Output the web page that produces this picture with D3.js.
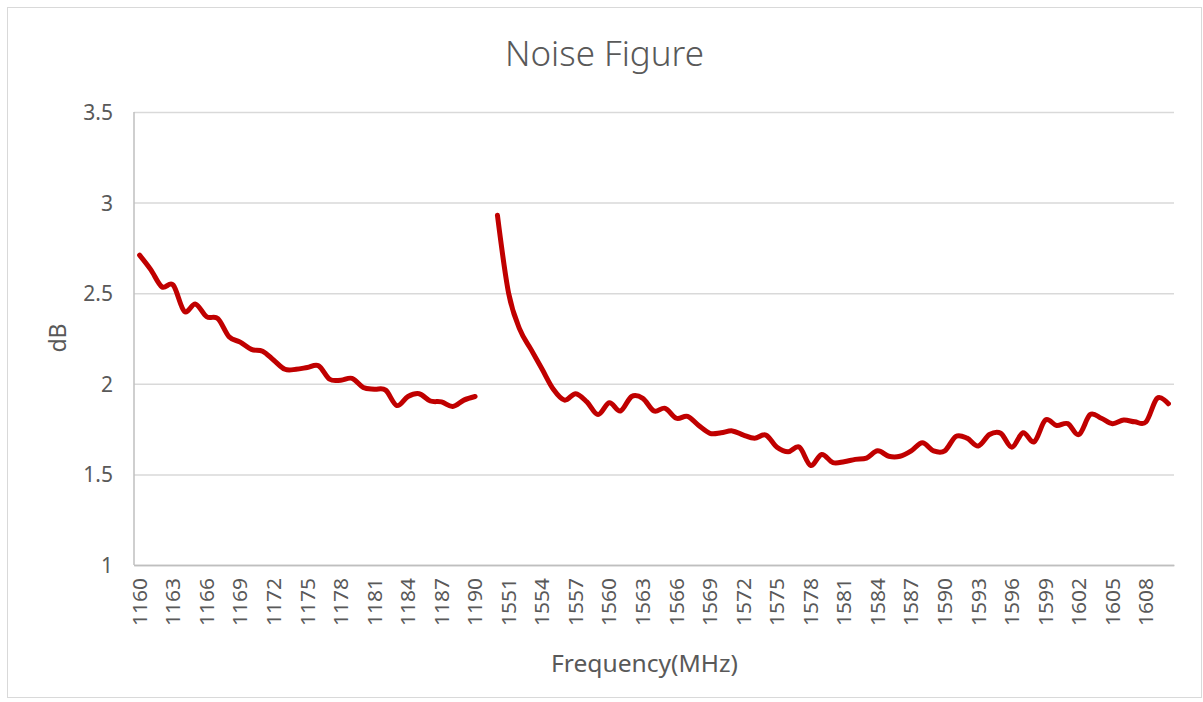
<!DOCTYPE html>
<html>
<head>
<meta charset="utf-8">
<script src="https://cdn.jsdelivr.net/npm/d3@7"></script>
<style>
  html, body { margin: 0; padding: 0; background: #fff; }
  svg { display: block; }
</style>
</head>
<body>
<svg id="chart" width="1203" height="702"></svg>
<script>
// ---- data ----
const lowBandFreqs = ["1160","1161","1162","1163","1164","1165","1166","1167","1168","1169","1170","1171","1172","1173","1174","1175","1176","1177","1178","1179","1180","1181","1182","1183","1184","1185","1186","1187","1188","1189","1190"];
const lowBandNF = [2.71,2.63,2.535,2.545,2.40,2.44,2.37,2.36,2.26,2.23,2.19,2.18,2.13,2.08,2.08,2.09,2.10,2.025,2.02,2.03,1.98,1.97,1.965,1.88,1.93,1.945,1.905,1.90,1.875,1.91,1.93];
const gapCategory = [""];
const highBandFreqs = ["1550","1551","1552","1553","1554","1555","1556","1557","1558","1559","1560","1561","1562","1563","1564","1565","1566","1567","1568","1569","1570","1571","1572","1573","1574","1575","1576","1577","1578","1579","1580","1581","1582","1583","1584","1585","1586","1587","1588","1589","1590","1591","1592","1593","1594","1595","1596","1597","1598","1599","1600","1601","1602","1603","1604","1605","1606","1607","1608","1609","1610"];
const highBandNF = [2.93,2.5,2.30,2.19,2.08,1.97,1.91,1.945,1.90,1.83,1.895,1.85,1.93,1.92,1.85,1.865,1.81,1.82,1.77,1.727,1.73,1.74,1.717,1.70,1.717,1.65,1.625,1.65,1.55,1.61,1.565,1.57,1.583,1.59,1.63,1.60,1.60,1.63,1.675,1.63,1.63,1.71,1.70,1.657,1.72,1.727,1.65,1.73,1.68,1.80,1.77,1.78,1.72,1.83,1.81,1.78,1.80,1.79,1.79,1.92,1.89];
const xTickLabels = ["1160","1163","1166","1169","1172","1175","1178","1181","1184","1187","1190","1551","1554","1557","1560","1563","1566","1569","1572","1575","1578","1581","1584","1587","1590","1593","1596","1599","1602","1605","1608"];
const yTicks = [1, 1.5, 2, 2.5, 3, 3.5];
const titleText = "Noise Figure";
const xTitle = "Frequency(MHz)";
const yTitle = "dB";

// ---- layout ----
const W = 1203, H = 702;
const plot = { left: 134, right: 1174, top: 112, bottom: 565 };
const textColor = "#595959";
const font = "'Noto Sans', 'DejaVu Sans', sans-serif";

const categories = lowBandFreqs.concat(gapCategory, highBandFreqs);
const x = d3.scaleBand().domain(categories).range([plot.left, plot.right]).paddingInner(0).paddingOuter(0);
const y = d3.scaleLinear().domain([1, 3.5]).range([plot.bottom, plot.top]);
const cx = d => x(d) + x.bandwidth() / 2;

const svg = d3.select("#chart");
svg.append("rect").attr("x", 0).attr("y", 0).attr("width", W).attr("height", H).attr("fill", "#fff");
svg.append("rect").attr("x", 7.5).attr("y", 7.5).attr("width", 1194).attr("height", 690)
  .attr("fill", "none").attr("stroke", "#d9d9d9").attr("stroke-width", 1);

// gridlines
const yAxis = d3.axisLeft(y).tickValues(yTicks).tickSize(-(plot.right - plot.left)).tickPadding(20)
  .tickFormat(d => String(d));
const gy = svg.append("g").attr("transform", `translate(${plot.left},0)`).call(yAxis);
gy.select(".domain").remove();
gy.selectAll(".tick line").attr("stroke", "#d9d9d9").attr("stroke-width", 1.5);
gy.selectAll(".tick").filter(d => d === 1).select("line").attr("stroke", "#bfbfbf");
gy.selectAll(".tick text").attr("fill", textColor).attr("font-family", font).attr("font-size", 21)
  .attr("x", -21).attr("dy", "0.36em");

// vertical axis line
svg.append("line").attr("x1", plot.left).attr("x2", plot.left).attr("y1", plot.top).attr("y2", plot.bottom)
  .attr("stroke", "#bfbfbf").attr("stroke-width", 1.5);

// x axis labels
const xAxis = d3.axisBottom(x).tickValues(xTickLabels).tickSize(0).tickPadding(0);
const gx = svg.append("g").attr("transform", `translate(0,${plot.bottom})`).call(xAxis);
gx.select(".domain").attr("stroke", "#bfbfbf").attr("stroke-width", 1.5);
gx.selectAll(".tick text")
  .attr("fill", textColor).attr("font-family", font).attr("font-size", 20)
  .attr("text-anchor", "end")
  .attr("transform", "rotate(-90)")
  .attr("x", -13).attr("y", 0).attr("dy", "0.36em")
  .attr("textLength", 48).attr("lengthAdjust", "spacingAndGlyphs");

// lines
const line = d3.line()
  .x(d => cx(d.f)).y(d => y(d.v))
  .curve(d3.curveCardinal.tension(0));
const lowSeries = lowBandFreqs.map((f, i) => ({ f, v: lowBandNF[i] }));
const highSeries = highBandFreqs.map((f, i) => ({ f, v: highBandNF[i] }));
[lowSeries, highSeries].forEach(s => {
  svg.append("path").datum(s).attr("d", line)
    .attr("fill", "none").attr("stroke", "#C00000").attr("stroke-width", 5)
    .attr("stroke-linecap", "round").attr("stroke-linejoin", "round");
});

// titles
svg.append("text").attr("x", 604.5).attr("y", 66).attr("text-anchor", "middle")
  .attr("fill", textColor).attr("font-family", font).attr("font-size", 35).attr("font-weight", 300)
  .attr("textLength", 199).attr("lengthAdjust", "spacingAndGlyphs")
  .text(titleText);
svg.append("text").attr("x", 644.5).attr("y", 672).attr("text-anchor", "middle")
  .attr("fill", textColor).attr("font-family", font).attr("font-size", 23)
  .attr("textLength", 187).attr("lengthAdjust", "spacingAndGlyphs")
  .text(xTitle);
svg.append("text").attr("transform", `translate(66,338) rotate(-90)`).attr("text-anchor", "middle")
  .attr("fill", textColor).attr("font-family", font).attr("font-size", 23)
  .text(yTitle);
</script>
</body>
</html>
